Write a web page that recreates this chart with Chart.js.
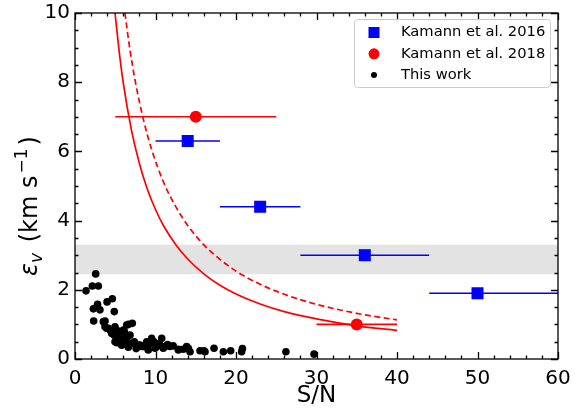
<!DOCTYPE html>
<html>
<head>
<meta charset="utf-8">
<script src="https://cdn.jsdelivr.net/npm/chart.js@4.4.0/dist/chart.umd.min.js"></script>
<style>
  html, body { margin: 0; padding: 0; background: #fff; }
</style>
</head>
<body>
<canvas id="snChart" width="585" height="410"></canvas>
<script>
// Kamann et al. 2016 (blue squares, horizontal error bars)
const k16X = [14, 23, 36, 50];
const k16Y = [6.3, 4.4, 3.0, 1.9];
const k16Lo = [10, 18, 28, 44];
const k16Hi = [18, 28, 44, 60];

// Kamann et al. 2018 (red circles)
const k18X = [15, 35];
const k18Y = [7.0, 1.0];
const k18Lo = [5, 30];
const k18Hi = [25, 40];

// this work
const ownX = [2.57, 1.37, 2.15, 2.9, 2.28, 2.8, 3.1, 3.98, 4.64, 4.88, 2.32, 3.73, 3.93, 4.35, 5.18, 4.88,
  5.38, 6.63, 7.12, 6.13, 6.83, 5.18, 6.0, 6.63, 7.37, 7.87, 8.28, 5.8, 6.42,
  3.52, 3.73, 4.14, 4.97, 4.56, 5.38, 6.0, 6.42, 4.97, 5.59, 6.21, 6.42, 7.04, 5.8, 8.49, 9.32,
  9.52, 10.15, 10.77, 11.18, 11.8, 12.84, 13.46, 14.08, 15.53, 16.15, 8.9, 8.07,
  9.1, 8.7, 9.94, 10.97, 12.84, 13.87, 14.29, 16.02, 10.5, 11.5, 12.2, 9.8, 7.6, 5.5,
  17.27, 18.43, 19.34, 20.7, 20.8, 26.2, 29.7];
const ownY = [2.46, 1.97, 2.11, 2.11, 1.45, 1.58, 1.42, 1.65, 1.74, 1.37, 1.1, 1.1, 0.89, 0.84, 0.84, 0.69,
  0.6, 1.0, 1.03, 0.79, 0.69, 0.47, 0.5, 0.34, 0.5, 0.4, 0.36, 0.63, 0.57,
  1.08, 0.93, 0.89, 0.93, 0.74, 0.79, 0.84, 0.98, 0.5, 0.55, 0.64, 0.45, 0.45, 0.4, 0.36, 0.45,
  0.6, 0.36, 0.6, 0.36, 0.36, 0.26, 0.28, 0.31, 0.24, 0.21, 0.5, 0.4,
  0.26, 0.36, 0.31, 0.31, 0.28, 0.36, 0.21, 0.24, 0.45, 0.42, 0.38, 0.5, 0.3, 0.62,
  0.31, 0.21, 0.24, 0.21, 0.3, 0.21, 0.14];

// solid and dashed red curves
const solidX = [4.97, 5.5, 6, 7, 8, 9, 10, 11, 12.5, 14, 16, 18, 20, 23, 26, 30, 35, 40];
const solidY = [10, 8.86, 7.97, 6.63, 5.65, 4.9, 4.32, 3.85, 3.31, 2.89, 2.46, 2.13, 1.88, 1.59, 1.37, 1.16, 0.96, 0.83];
const dashX = [6.2, 6.8, 7.5, 8.5, 9.5, 11, 12.5, 14, 16, 18, 20, 23, 26, 30, 35, 40];
const dashY = [10, 8.98, 8.01, 6.92, 6.07, 5.11, 4.41, 3.86, 3.3, 2.88, 2.54, 2.16, 1.87, 1.58, 1.32, 1.13];

// grey band
const bandX = [0, 60];
const bandLow = 2.45;
const bandHigh = 3.3;

function pts(xs, ys) {
    return xs.map((v, i) => ({ x: v, y: ys[i] }));
}

const errBars = {
    id: 'errBars',
    beforeDatasetDraw(chart, args) {
        const ds = chart.data.datasets[args.index];
        if (!ds.xErr) return;
        const { ctx, chartArea: a, scales: { x } } = chart;
        ctx.save();
        ctx.beginPath();
        ctx.rect(a.left, a.top, a.right - a.left, a.bottom - a.top);
        ctx.clip();
        ctx.strokeStyle = ds.borderColor;
        ctx.lineWidth = 1.6;
        args.meta.data.forEach((el, i) => {
            ctx.beginPath();
            ctx.moveTo(x.getPixelForValue(ds.xErr[0][i]), el.y);
            ctx.lineTo(x.getPixelForValue(ds.xErr[1][i]), el.y);
            ctx.stroke();
        });
        ctx.restore();
    }
};

const frameTicks = {
    id: 'frameTicks',
    afterDatasetsDraw(chart) {
        const { ctx, chartArea: a, scales: { x, y } } = chart;
        ctx.save();
        ctx.strokeStyle = '#000';
        ctx.lineWidth = 1.3;
        ctx.strokeRect(a.left, a.top, a.right - a.left, a.bottom - a.top);
        ctx.beginPath();
        for (let v = 0; v <= 60; v += 2) {
            const px = Math.round(x.getPixelForValue(v)) + 0.5;
            const len = v % 10 === 0 ? 7 : 3.5;
            ctx.moveTo(px, a.bottom); ctx.lineTo(px, a.bottom - len);
            ctx.moveTo(px, a.top); ctx.lineTo(px, a.top + len);
        }
        for (let v = 0; v <= 10; v += 0.5) {
            const py = Math.round(y.getPixelForValue(v)) + 0.5;
            const len = v % 2 === 0 ? 7 : 3.5;
            ctx.moveTo(a.left, py); ctx.lineTo(a.left + len, py);
            ctx.moveTo(a.right, py); ctx.lineTo(a.right - len, py);
        }
        ctx.stroke();
        ctx.restore();
    }
};

const yTitle = {
    id: 'yTitle',
    afterDraw(chart) {
        const ctx = chart.ctx;
        const big = 24, small = 17;
        const parts = [
            { t: 'ε', f: 'italic ' + big + 'px "DejaVu Sans"', dy: 0, gap: 0 },
            { t: 'v', f: 'italic ' + small + 'px "DejaVu Sans"', dy: 5, gap: 3 },
            { t: ' (km s', f: big + 'px "DejaVu Sans"', dy: 0, gap: 2 },
            { t: '−1', f: small + 'px "DejaVu Sans"', dy: -10, gap: 3 },
            { t: ')', f: big + 'px "DejaVu Sans"', dy: 0, gap: 0 }
        ];
        let w = 0;
        parts.forEach(p => { ctx.font = p.f; p.w = ctx.measureText(p.t).width + p.gap; w += p.w; });
        ctx.save();
        ctx.translate(37, 206);
        ctx.rotate(-Math.PI / 2);
        ctx.fillStyle = '#000';
        ctx.textBaseline = 'alphabetic';
        let cx = -w / 2;
        parts.forEach(p => {
            ctx.font = p.f;
            ctx.fillText(p.t, cx, p.dy);
            cx += p.w;
        });
        ctx.restore();
    }
};

const boxLegend = {
    id: 'boxLegend',
    afterDraw(chart) {
        const ctx = chart.ctx;
        const items = chart.data.datasets.filter(d => d.legendMarker);
        ctx.save();
        ctx.fillStyle = 'rgba(255,255,255,0.9)';
        ctx.strokeStyle = '#cccccc';
        ctx.lineWidth = 1;
        ctx.beginPath();
        ctx.roundRect(354.5, 19.5, 196, 68, 3);
        ctx.fill();
        ctx.stroke();
        ctx.font = '14.7px "DejaVu Sans"';
        ctx.textBaseline = 'middle';
        items.forEach((d, i) => {
            const cy = 32.5 + i * 21.3;
            ctx.fillStyle = d.backgroundColor;
            ctx.beginPath();
            if (d.legendMarker === 'rect') {
                ctx.rect(374 - 5.5, cy - 5.5, 11, 11);
            } else {
                ctx.arc(374, cy, d.legendMarker === 'big' ? 5.5 : 3, 0, Math.PI * 2);
            }
            ctx.fill();
            ctx.fillStyle = '#000';
            ctx.fillText(d.label, 401, cy);
        });
        ctx.restore();
    }
};

function noPad(s) {
    s.paddingTop = 0;
    s.paddingBottom = 0;
    s.paddingLeft = 0;
    s.paddingRight = 0;
}

new Chart(document.getElementById('snChart').getContext('2d'), {
    type: 'scatter',
    data: {
        datasets: [
            {
                label: 'Kamann et al. 2016',
                data: pts(k16X, k16Y),
                xErr: [k16Lo, k16Hi],
                pointStyle: 'rect',
                pointRadius: 8.5,
                backgroundColor: '#0000ff',
                borderColor: '#0000ff',
                borderWidth: 0,
                legendMarker: 'rect',
                order: 1
            },
            {
                label: 'Kamann et al. 2018',
                data: pts(k18X, k18Y),
                xErr: [k18Lo, k18Hi],
                pointRadius: 6,
                backgroundColor: '#ff0000',
                borderColor: '#ff0000',
                borderWidth: 0,
                legendMarker: 'big',
                order: 2
            },
            {
                label: 'This work',
                data: pts(ownX, ownY),
                pointRadius: 3.8,
                backgroundColor: '#000000',
                borderWidth: 0,
                legendMarker: 'small',
                order: 4
            },
            {
                label: 'model',
                data: pts(solidX, solidY),
                showLine: true,
                borderColor: '#ff0000',
                borderWidth: 1.7,
                pointRadius: 0,
                cubicInterpolationMode: 'monotone',
                order: 8
            },
            {
                label: 'model dashed',
                data: pts(dashX, dashY),
                showLine: true,
                borderColor: '#ff0000',
                borderWidth: 1.7,
                borderDash: [6, 3.5],
                pointRadius: 0,
                cubicInterpolationMode: 'monotone',
                order: 8
            },
            {
                label: 'band',
                data: pts(bandX, [bandHigh, bandHigh]),
                showLine: true,
                borderWidth: 0,
                borderColor: 'rgba(0,0,0,0)',
                backgroundColor: '#e3e3e3',
                fill: { value: bandLow },
                pointRadius: 0,
                order: 10
            }
        ]
    },
    options: {
        responsive: false,
        animation: false,
        events: [],
        layout: { padding: { left: 0, right: 27, top: 13, bottom: 0 } },
        plugins: {
            legend: { display: false },
            tooltip: { enabled: false }
        },
        scales: {
            x: {
                min: 0,
                max: 60,
                afterFit: s => { s.height = 51; noPad(s); },
                grid: { display: false, drawTicks: false },
                border: { display: false },
                ticks: {
                    stepSize: 10,
                    padding: 8,
                    color: '#000',
                    maxRotation: 0,
                    font: { family: 'DejaVu Sans', size: 20 }
                },
                title: {
                    display: true,
                    text: 'S/N',
                    color: '#000',
                    padding: { top: 0, bottom: 0 },
                    font: { family: 'DejaVu Sans', size: 23, lineHeight: 1.2 }
                }
            },
            y: {
                min: 0,
                max: 10,
                afterFit: s => { s.width = 75; noPad(s); },
                grid: { display: false, drawTicks: false },
                border: { display: false },
                ticks: {
                    stepSize: 2,
                    padding: 5,
                    color: '#000',
                    font: { family: 'DejaVu Sans', size: 20 }
                }
            }
        }
    },
    plugins: [errBars, frameTicks, yTitle, boxLegend]
});
</script>
</body>
</html>
